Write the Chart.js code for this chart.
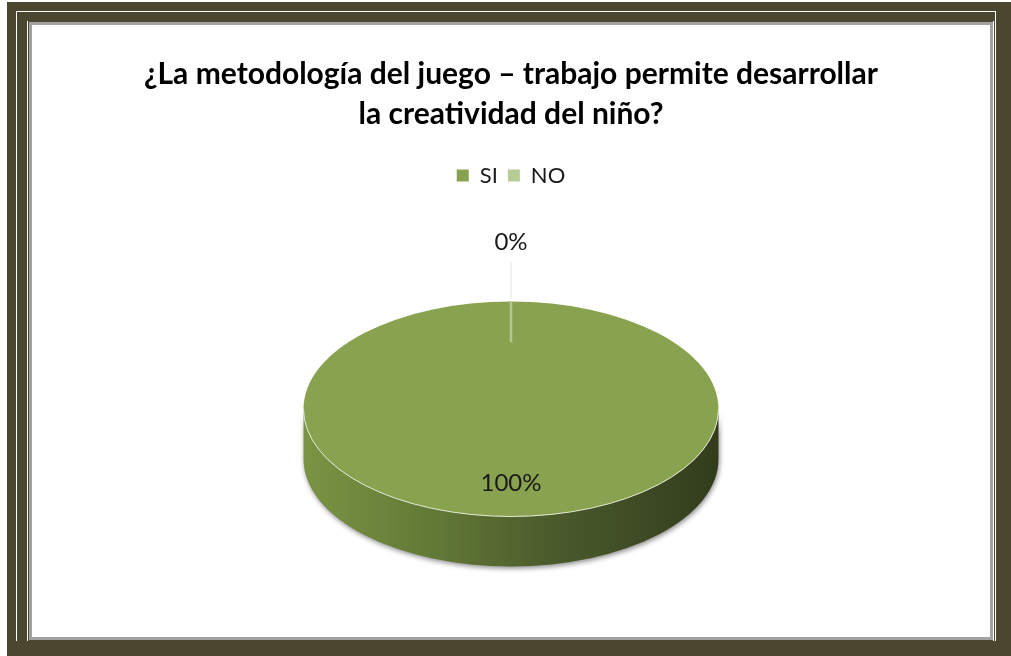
<!DOCTYPE html>
<html>
<head>
<meta charset="utf-8">
<script src="https://cdn.jsdelivr.net/npm/chart.js@4.4.1/dist/chart.umd.min.js"></script>
<style>
  body { margin: 0; background: #fff; width: 1011px; height: 656px; overflow: hidden; position: relative; }
  .frame { position: absolute; left: 7px; top: 2px; right: 0; bottom: 0; background: #4b4630; }
  .line1 { position: absolute; left: 16px; top: 11px; width: 980px; height: 630px; border-left: 1px solid #fff; border-top: 1px solid #fff; border-right: 1px solid #fff; box-sizing: border-box; }
  .line2 { position: absolute; left: 27px; top: 21px; width: 967px; height: 620px; border-left: 1px solid #fff; border-right: 1px solid #fff; box-sizing: border-box; }
  .panel { position: absolute; left: 29px; top: 22px; width: 964px; height: 618px; background: #fff; border: 3px solid #a2a2a2; box-sizing: border-box; }
  #myChart { position: absolute; left: 32px; top: 25px; }
</style>
</head>
<body>
<div class="frame"></div>
<div class="line1"></div>
<div class="line2"></div>
<div class="panel"></div>
<canvas id="myChart" width="958" height="612"></canvas>
<script>
const ctx = document.getElementById('myChart');

// datos
const titulo = ['¿La metodología del juego – trabajo permite desarrollar', 'la creatividad del niño?'];
const categorias = ['SI', 'NO'];
const valores = [100, 0];
const colores = ['#89a24f', '#b6cc93'];

const TILT = 0.518;   // aplastamiento de la elipse
const DEPTH = 50;     // grosor del costado 3D

Chart.defaults.font.family = 'Lato';
Chart.defaults.color = '#1a1a1a';

function lowerParts(s, e) {
    // partes del arco que caen en la mitad inferior (costado visible)
    let parts = [];
    for (let k = -1; k <= 1; k++) {
        let a = Math.max(s, k * 2 * Math.PI);
        let b = Math.min(e, k * 2 * Math.PI + Math.PI);
        if (b > a) parts.push([a, b]);
    }
    return parts;
}

const pie3d = {
    id: 'pie3d',
    beforeDatasetsDraw(chart) {
        const c = chart.ctx;
        const arcs = chart.getDatasetMeta(0).data;
        const {x, y, outerRadius} = arcs[0];
        const rx = outerRadius, ry = outerRadius * TILT;

        c.save();
        let grad = c.createLinearGradient(x - rx, 0, x + rx, 0);
        grad.addColorStop(0, '#7a9444');
        grad.addColorStop(0.3, '#637a36');
        grad.addColorStop(0.6, '#4b5b2c');
        grad.addColorStop(1, '#323c1c');
        arcs.forEach(arc => {
            lowerParts(arc.startAngle, arc.endAngle).forEach(p => {
                c.beginPath();
                c.ellipse(x, y, rx, ry, 0, p[0], p[1]);
                c.ellipse(x, y + DEPTH, rx, ry, 0, p[1], p[0], true);
                c.closePath();
                c.shadowColor = 'rgba(0,0,0,0.45)';
                c.shadowBlur = 5;
                c.shadowOffsetX = 1;
                c.shadowOffsetY = 2;
                c.fillStyle = grad;
                c.fill();
            });
        });
        c.restore();

        c.save();
        c.translate(x, y);
        c.scale(1, TILT);
        c.translate(-x, -y);
    },
    afterDatasetsDraw(chart) {
        const c = chart.ctx;
        c.restore();

        const arcs = chart.getDatasetMeta(0).data;
        const total = valores.reduce((a, b) => a + b, 0);

        // borde claro entre la cara y el costado
        const a0 = arcs[0];
        c.save();
        c.strokeStyle = 'rgba(235,240,222,0.9)';
        c.lineWidth = 1;
        c.beginPath();
        c.ellipse(a0.x, a0.y, a0.outerRadius, a0.outerRadius * TILT, 0, 0, Math.PI);
        c.stroke();
        c.restore();

        arcs.forEach((arc, i) => {
            const {x, y, outerRadius} = arc;
            const pct = Math.round(valores[i] / total * 100) + '%';
            const mid = (arc.startAngle + arc.endAngle) / 2;
            c.save();
            c.font = '24px Lato';
            c.fillStyle = '#1a1a1a';
            c.textAlign = 'center';
            c.textBaseline = 'middle';
            if (valores[i] === 0) {
                // línea del sector vacío
                const a = arc.startAngle;
                c.strokeStyle = '#b3c68c';
                c.lineWidth = 2.5;
                c.beginPath();
                c.moveTo(x + Math.cos(a) * outerRadius, y + Math.sin(a) * outerRadius * TILT);
                c.lineTo(x + Math.cos(a) * outerRadius * 0.62, y + Math.sin(a) * outerRadius * 0.62 * TILT);
                c.stroke();
                const ex = x + Math.cos(a) * outerRadius;
                const ey = y + Math.sin(a) * outerRadius * TILT;
                c.strokeStyle = '#e2e2e2';
                c.lineWidth = 1;
                c.beginPath();
                c.moveTo(ex, ey - 2);
                c.lineTo(ex, ey - 39);
                c.stroke();
                c.fillText(pct, ex, ey - 59);
            } else {
                c.fillText(pct, x + Math.cos(mid) * outerRadius * 0.69, y + Math.sin(mid) * outerRadius * 0.69 * TILT);
            }
            c.restore();
        });
    }
};

new Chart(ctx, {
    type: 'pie',
    data: {
        labels: categorias,
        datasets: [{
            data: valores,
            backgroundColor: colores,
            borderWidth: 0
        }]
    },
    options: {
        responsive: false,
        animation: false,
        events: [],
        radius: 207.5,
        layout: { padding: { top: 0, bottom: 15.5, left: 0, right: 0 } },
        plugins: {
            title: {
                display: true,
                text: titulo,
                color: '#000',
                font: { size: 30, weight: 'bold', lineHeight: '40px' },
                padding: { top: 29, bottom: 20.5 }
            },
            legend: {
                position: 'top',
                labels: {
                    boxWidth: 12,
                    boxHeight: 12,
                    padding: 10,
                    color: '#1a1a1a',
                    font: { size: 22 }
                }
            },
            tooltip: { enabled: false }
        }
    },
    plugins: [pie3d]
});
</script>
</body>
</html>
